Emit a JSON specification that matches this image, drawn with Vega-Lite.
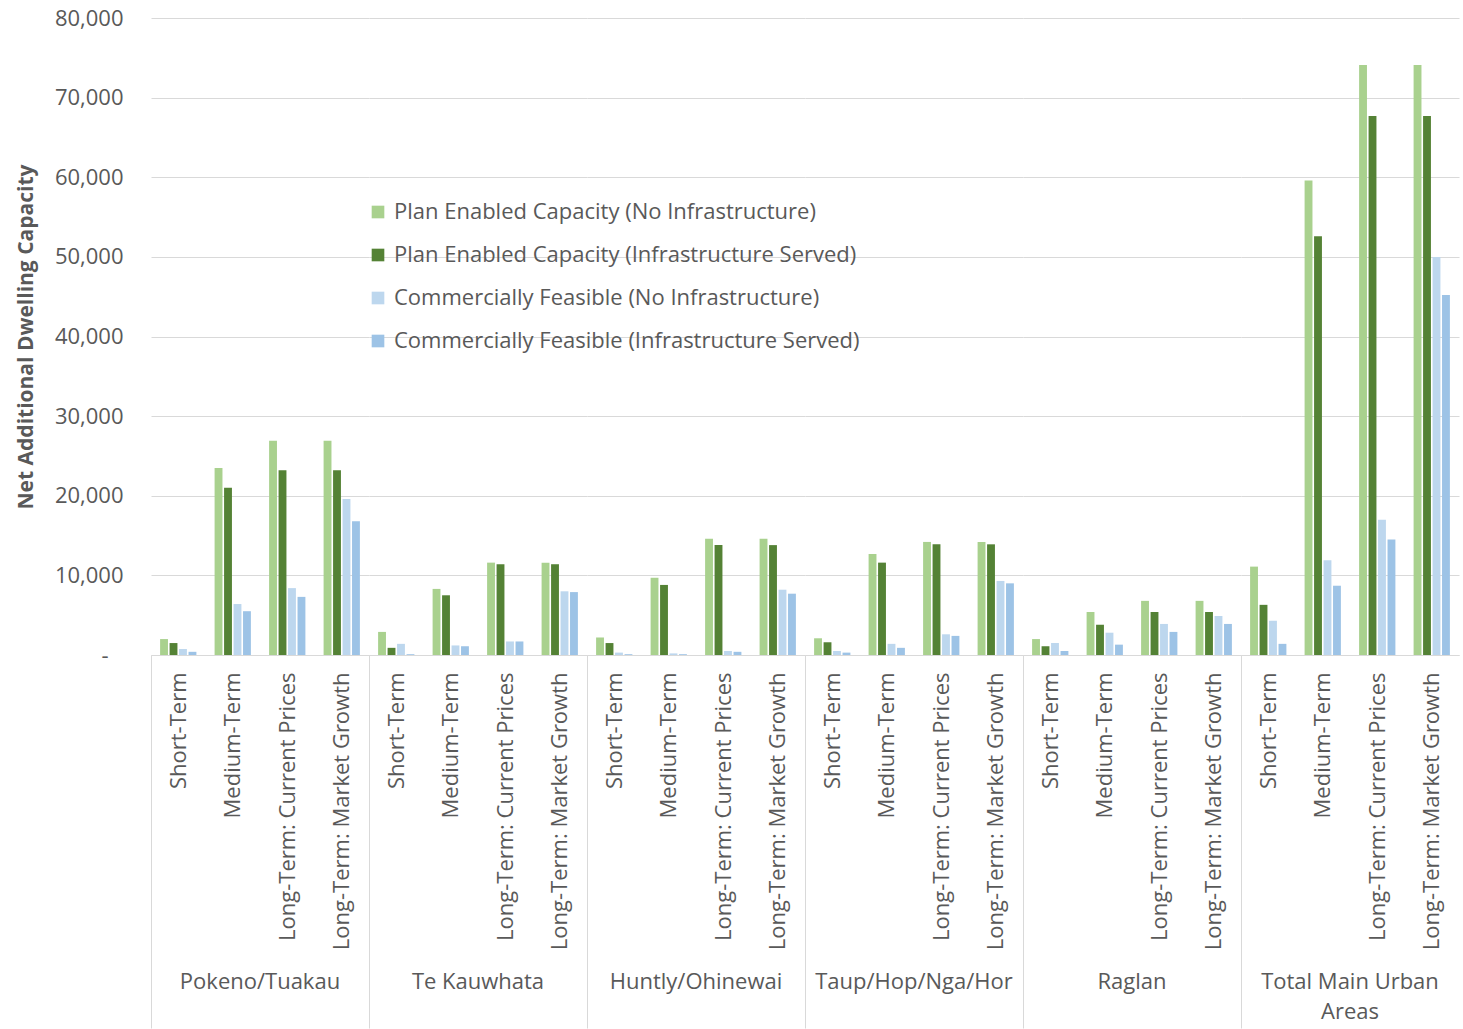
{
  "$schema": "https://vega.github.io/schema/vega-lite/v6.json",
  "background": "white",
  "padding": {"left": 15, "top": 7, "right": 0, "bottom": 0},
  "data": {"values": [
    {"region": "Pokeno/Tuakau", "term": "Short-Term", "series": "Plan Enabled Capacity (No Infrastructure)", "value": 2000},
    {"region": "Pokeno/Tuakau", "term": "Short-Term", "series": "Plan Enabled Capacity (Infrastructure Served)", "value": 1500},
    {"region": "Pokeno/Tuakau", "term": "Short-Term", "series": "Commercially Feasible (No Infrastructure)", "value": 750},
    {"region": "Pokeno/Tuakau", "term": "Short-Term", "series": "Commercially Feasible (Infrastructure Served)", "value": 400},
    {"region": "Pokeno/Tuakau", "term": "Medium-Term", "series": "Plan Enabled Capacity (No Infrastructure)", "value": 23500},
    {"region": "Pokeno/Tuakau", "term": "Medium-Term", "series": "Plan Enabled Capacity (Infrastructure Served)", "value": 21000},
    {"region": "Pokeno/Tuakau", "term": "Medium-Term", "series": "Commercially Feasible (No Infrastructure)", "value": 6400},
    {"region": "Pokeno/Tuakau", "term": "Medium-Term", "series": "Commercially Feasible (Infrastructure Served)", "value": 5500},
    {"region": "Pokeno/Tuakau", "term": "Long-Term: Current Prices", "series": "Plan Enabled Capacity (No Infrastructure)", "value": 26900},
    {"region": "Pokeno/Tuakau", "term": "Long-Term: Current Prices", "series": "Plan Enabled Capacity (Infrastructure Served)", "value": 23200},
    {"region": "Pokeno/Tuakau", "term": "Long-Term: Current Prices", "series": "Commercially Feasible (No Infrastructure)", "value": 8400},
    {"region": "Pokeno/Tuakau", "term": "Long-Term: Current Prices", "series": "Commercially Feasible (Infrastructure Served)", "value": 7300},
    {"region": "Pokeno/Tuakau", "term": "Long-Term: Market Growth", "series": "Plan Enabled Capacity (No Infrastructure)", "value": 26900},
    {"region": "Pokeno/Tuakau", "term": "Long-Term: Market Growth", "series": "Plan Enabled Capacity (Infrastructure Served)", "value": 23200},
    {"region": "Pokeno/Tuakau", "term": "Long-Term: Market Growth", "series": "Commercially Feasible (No Infrastructure)", "value": 19600},
    {"region": "Pokeno/Tuakau", "term": "Long-Term: Market Growth", "series": "Commercially Feasible (Infrastructure Served)", "value": 16800},
    {"region": "Te Kauwhata", "term": "Short-Term", "series": "Plan Enabled Capacity (No Infrastructure)", "value": 2900},
    {"region": "Te Kauwhata", "term": "Short-Term", "series": "Plan Enabled Capacity (Infrastructure Served)", "value": 900},
    {"region": "Te Kauwhata", "term": "Short-Term", "series": "Commercially Feasible (No Infrastructure)", "value": 1400},
    {"region": "Te Kauwhata", "term": "Short-Term", "series": "Commercially Feasible (Infrastructure Served)", "value": 100},
    {"region": "Te Kauwhata", "term": "Medium-Term", "series": "Plan Enabled Capacity (No Infrastructure)", "value": 8300},
    {"region": "Te Kauwhata", "term": "Medium-Term", "series": "Plan Enabled Capacity (Infrastructure Served)", "value": 7500},
    {"region": "Te Kauwhata", "term": "Medium-Term", "series": "Commercially Feasible (No Infrastructure)", "value": 1200},
    {"region": "Te Kauwhata", "term": "Medium-Term", "series": "Commercially Feasible (Infrastructure Served)", "value": 1100},
    {"region": "Te Kauwhata", "term": "Long-Term: Current Prices", "series": "Plan Enabled Capacity (No Infrastructure)", "value": 11600},
    {"region": "Te Kauwhata", "term": "Long-Term: Current Prices", "series": "Plan Enabled Capacity (Infrastructure Served)", "value": 11400},
    {"region": "Te Kauwhata", "term": "Long-Term: Current Prices", "series": "Commercially Feasible (No Infrastructure)", "value": 1700},
    {"region": "Te Kauwhata", "term": "Long-Term: Current Prices", "series": "Commercially Feasible (Infrastructure Served)", "value": 1700},
    {"region": "Te Kauwhata", "term": "Long-Term: Market Growth", "series": "Plan Enabled Capacity (No Infrastructure)", "value": 11600},
    {"region": "Te Kauwhata", "term": "Long-Term: Market Growth", "series": "Plan Enabled Capacity (Infrastructure Served)", "value": 11400},
    {"region": "Te Kauwhata", "term": "Long-Term: Market Growth", "series": "Commercially Feasible (No Infrastructure)", "value": 8000},
    {"region": "Te Kauwhata", "term": "Long-Term: Market Growth", "series": "Commercially Feasible (Infrastructure Served)", "value": 7900},
    {"region": "Huntly/Ohinewai", "term": "Short-Term", "series": "Plan Enabled Capacity (No Infrastructure)", "value": 2200},
    {"region": "Huntly/Ohinewai", "term": "Short-Term", "series": "Plan Enabled Capacity (Infrastructure Served)", "value": 1500},
    {"region": "Huntly/Ohinewai", "term": "Short-Term", "series": "Commercially Feasible (No Infrastructure)", "value": 300},
    {"region": "Huntly/Ohinewai", "term": "Short-Term", "series": "Commercially Feasible (Infrastructure Served)", "value": 100},
    {"region": "Huntly/Ohinewai", "term": "Medium-Term", "series": "Plan Enabled Capacity (No Infrastructure)", "value": 9700},
    {"region": "Huntly/Ohinewai", "term": "Medium-Term", "series": "Plan Enabled Capacity (Infrastructure Served)", "value": 8800},
    {"region": "Huntly/Ohinewai", "term": "Medium-Term", "series": "Commercially Feasible (No Infrastructure)", "value": 200},
    {"region": "Huntly/Ohinewai", "term": "Medium-Term", "series": "Commercially Feasible (Infrastructure Served)", "value": 100},
    {"region": "Huntly/Ohinewai", "term": "Long-Term: Current Prices", "series": "Plan Enabled Capacity (No Infrastructure)", "value": 14600},
    {"region": "Huntly/Ohinewai", "term": "Long-Term: Current Prices", "series": "Plan Enabled Capacity (Infrastructure Served)", "value": 13800},
    {"region": "Huntly/Ohinewai", "term": "Long-Term: Current Prices", "series": "Commercially Feasible (No Infrastructure)", "value": 500},
    {"region": "Huntly/Ohinewai", "term": "Long-Term: Current Prices", "series": "Commercially Feasible (Infrastructure Served)", "value": 400},
    {"region": "Huntly/Ohinewai", "term": "Long-Term: Market Growth", "series": "Plan Enabled Capacity (No Infrastructure)", "value": 14600},
    {"region": "Huntly/Ohinewai", "term": "Long-Term: Market Growth", "series": "Plan Enabled Capacity (Infrastructure Served)", "value": 13800},
    {"region": "Huntly/Ohinewai", "term": "Long-Term: Market Growth", "series": "Commercially Feasible (No Infrastructure)", "value": 8200},
    {"region": "Huntly/Ohinewai", "term": "Long-Term: Market Growth", "series": "Commercially Feasible (Infrastructure Served)", "value": 7700},
    {"region": "Taup/Hop/Nga/Hor", "term": "Short-Term", "series": "Plan Enabled Capacity (No Infrastructure)", "value": 2100},
    {"region": "Taup/Hop/Nga/Hor", "term": "Short-Term", "series": "Plan Enabled Capacity (Infrastructure Served)", "value": 1600},
    {"region": "Taup/Hop/Nga/Hor", "term": "Short-Term", "series": "Commercially Feasible (No Infrastructure)", "value": 500},
    {"region": "Taup/Hop/Nga/Hor", "term": "Short-Term", "series": "Commercially Feasible (Infrastructure Served)", "value": 300},
    {"region": "Taup/Hop/Nga/Hor", "term": "Medium-Term", "series": "Plan Enabled Capacity (No Infrastructure)", "value": 12700},
    {"region": "Taup/Hop/Nga/Hor", "term": "Medium-Term", "series": "Plan Enabled Capacity (Infrastructure Served)", "value": 11600},
    {"region": "Taup/Hop/Nga/Hor", "term": "Medium-Term", "series": "Commercially Feasible (No Infrastructure)", "value": 1400},
    {"region": "Taup/Hop/Nga/Hor", "term": "Medium-Term", "series": "Commercially Feasible (Infrastructure Served)", "value": 900},
    {"region": "Taup/Hop/Nga/Hor", "term": "Long-Term: Current Prices", "series": "Plan Enabled Capacity (No Infrastructure)", "value": 14200},
    {"region": "Taup/Hop/Nga/Hor", "term": "Long-Term: Current Prices", "series": "Plan Enabled Capacity (Infrastructure Served)", "value": 13900},
    {"region": "Taup/Hop/Nga/Hor", "term": "Long-Term: Current Prices", "series": "Commercially Feasible (No Infrastructure)", "value": 2600},
    {"region": "Taup/Hop/Nga/Hor", "term": "Long-Term: Current Prices", "series": "Commercially Feasible (Infrastructure Served)", "value": 2400},
    {"region": "Taup/Hop/Nga/Hor", "term": "Long-Term: Market Growth", "series": "Plan Enabled Capacity (No Infrastructure)", "value": 14200},
    {"region": "Taup/Hop/Nga/Hor", "term": "Long-Term: Market Growth", "series": "Plan Enabled Capacity (Infrastructure Served)", "value": 13900},
    {"region": "Taup/Hop/Nga/Hor", "term": "Long-Term: Market Growth", "series": "Commercially Feasible (No Infrastructure)", "value": 9300},
    {"region": "Taup/Hop/Nga/Hor", "term": "Long-Term: Market Growth", "series": "Commercially Feasible (Infrastructure Served)", "value": 9000},
    {"region": "Raglan", "term": "Short-Term", "series": "Plan Enabled Capacity (No Infrastructure)", "value": 2000},
    {"region": "Raglan", "term": "Short-Term", "series": "Plan Enabled Capacity (Infrastructure Served)", "value": 1100},
    {"region": "Raglan", "term": "Short-Term", "series": "Commercially Feasible (No Infrastructure)", "value": 1500},
    {"region": "Raglan", "term": "Short-Term", "series": "Commercially Feasible (Infrastructure Served)", "value": 500},
    {"region": "Raglan", "term": "Medium-Term", "series": "Plan Enabled Capacity (No Infrastructure)", "value": 5400},
    {"region": "Raglan", "term": "Medium-Term", "series": "Plan Enabled Capacity (Infrastructure Served)", "value": 3800},
    {"region": "Raglan", "term": "Medium-Term", "series": "Commercially Feasible (No Infrastructure)", "value": 2800},
    {"region": "Raglan", "term": "Medium-Term", "series": "Commercially Feasible (Infrastructure Served)", "value": 1300},
    {"region": "Raglan", "term": "Long-Term: Current Prices", "series": "Plan Enabled Capacity (No Infrastructure)", "value": 6800},
    {"region": "Raglan", "term": "Long-Term: Current Prices", "series": "Plan Enabled Capacity (Infrastructure Served)", "value": 5400},
    {"region": "Raglan", "term": "Long-Term: Current Prices", "series": "Commercially Feasible (No Infrastructure)", "value": 3900},
    {"region": "Raglan", "term": "Long-Term: Current Prices", "series": "Commercially Feasible (Infrastructure Served)", "value": 2900},
    {"region": "Raglan", "term": "Long-Term: Market Growth", "series": "Plan Enabled Capacity (No Infrastructure)", "value": 6800},
    {"region": "Raglan", "term": "Long-Term: Market Growth", "series": "Plan Enabled Capacity (Infrastructure Served)", "value": 5400},
    {"region": "Raglan", "term": "Long-Term: Market Growth", "series": "Commercially Feasible (No Infrastructure)", "value": 4900},
    {"region": "Raglan", "term": "Long-Term: Market Growth", "series": "Commercially Feasible (Infrastructure Served)", "value": 3900},
    {"region": "Total Main Urban Areas", "term": "Short-Term", "series": "Plan Enabled Capacity (No Infrastructure)", "value": 11100},
    {"region": "Total Main Urban Areas", "term": "Short-Term", "series": "Plan Enabled Capacity (Infrastructure Served)", "value": 6300},
    {"region": "Total Main Urban Areas", "term": "Short-Term", "series": "Commercially Feasible (No Infrastructure)", "value": 4300},
    {"region": "Total Main Urban Areas", "term": "Short-Term", "series": "Commercially Feasible (Infrastructure Served)", "value": 1400},
    {"region": "Total Main Urban Areas", "term": "Medium-Term", "series": "Plan Enabled Capacity (No Infrastructure)", "value": 59600},
    {"region": "Total Main Urban Areas", "term": "Medium-Term", "series": "Plan Enabled Capacity (Infrastructure Served)", "value": 52600},
    {"region": "Total Main Urban Areas", "term": "Medium-Term", "series": "Commercially Feasible (No Infrastructure)", "value": 11900},
    {"region": "Total Main Urban Areas", "term": "Medium-Term", "series": "Commercially Feasible (Infrastructure Served)", "value": 8700},
    {"region": "Total Main Urban Areas", "term": "Long-Term: Current Prices", "series": "Plan Enabled Capacity (No Infrastructure)", "value": 74100},
    {"region": "Total Main Urban Areas", "term": "Long-Term: Current Prices", "series": "Plan Enabled Capacity (Infrastructure Served)", "value": 67700},
    {"region": "Total Main Urban Areas", "term": "Long-Term: Current Prices", "series": "Commercially Feasible (No Infrastructure)", "value": 17000},
    {"region": "Total Main Urban Areas", "term": "Long-Term: Current Prices", "series": "Commercially Feasible (Infrastructure Served)", "value": 14500},
    {"region": "Total Main Urban Areas", "term": "Long-Term: Market Growth", "series": "Plan Enabled Capacity (No Infrastructure)", "value": 74100},
    {"region": "Total Main Urban Areas", "term": "Long-Term: Market Growth", "series": "Plan Enabled Capacity (Infrastructure Served)", "value": 67700},
    {"region": "Total Main Urban Areas", "term": "Long-Term: Market Growth", "series": "Commercially Feasible (No Infrastructure)", "value": 50000},
    {"region": "Total Main Urban Areas", "term": "Long-Term: Market Growth", "series": "Commercially Feasible (Infrastructure Served)", "value": 45200}
  ]},
  "spacing": 0,
  "facet": {
    "column": {
      "field": "region",
      "type": "nominal",
      "sort": ["Pokeno/Tuakau", "Te Kauwhata", "Huntly/Ohinewai", "Taup/Hop/Nga/Hor", "Raglan", "Total Main Urban Areas"],
      "title": null,
      "header": {
        "labelOrient": "bottom",
        "labelFont": "Open Sans",
        "labelFontSize": 22,
        "labelColor": "#595959",
        "labelPadding": -57,
        "labelLineHeight": 30,
        "labelExpr": "datum.value === 'Total Main Urban Areas' ? ['Total Main Urban', 'Areas'] : datum.value"
      }
    }
  },
  "spec": {
    "width": 218,
    "height": 637,
    "mark": {"type": "bar"},
    "encoding": {
      "x": {
        "field": "term",
        "type": "nominal",
        "sort": ["Short-Term", "Medium-Term", "Long-Term: Current Prices", "Long-Term: Market Growth"],
        "scale": {"paddingInner": 0, "paddingOuter": 0},
        "axis": {
          "title": null,
          "labelAngle": -90,
          "labelLimit": 400,
          "labelOverlap": false,
          "labelFont": "Open Sans",
          "labelFontSize": 22,
          "labelColor": "#595959",
          "tickBand": "extent",
          "tickSize": 373,
          "tickColor": {"condition": {"test": "datum.extra != null", "value": "#d9d9d9"}, "value": "transparent"},
          "labelPadding": -356,
          "domainColor": "#d9d9d9",
          "grid": false
        }
      },
      "xOffset": {
        "field": "series",
        "type": "nominal",
        "sort": ["Plan Enabled Capacity (No Infrastructure)", "Plan Enabled Capacity (Infrastructure Served)", "Commercially Feasible (No Infrastructure)", "Commercially Feasible (Infrastructure Served)"],
        "scale": {"paddingInner": 0.17, "paddingOuter": 0.96}
      },
      "y": {
        "field": "value",
        "type": "quantitative",
        "scale": {"domain": [0, 80000]},
        "axis": {
          "title": "Net Additional Dwelling Capacity",
          "titleFont": "Open Sans",
          "titleFontSize": 21,
          "titleFontWeight": "bold",
          "titleColor": "#595959",
          "titlePadding": 18,
          "values": [0, 10000, 20000, 30000, 40000, 50000, 60000, 70000, 80000],
          "labelExpr": "datum.value === 0 ? '-' : format(datum.value, ',')",
          "labelFont": "Open Sans",
          "labelFontSize": 22,
          "labelColor": "#595959",
          "labelPadding": {"condition": {"test": "datum.value === 0", "value": 43}, "value": 28},
          "domain": false,
          "ticks": false,
          "gridColor": "#d9d9d9",
          "gridWidth": 1
        }
      },
      "color": {
        "field": "series",
        "type": "nominal",
        "sort": ["Plan Enabled Capacity (No Infrastructure)", "Plan Enabled Capacity (Infrastructure Served)", "Commercially Feasible (No Infrastructure)", "Commercially Feasible (Infrastructure Served)"],
        "scale": {
          "domain": ["Plan Enabled Capacity (No Infrastructure)", "Plan Enabled Capacity (Infrastructure Served)", "Commercially Feasible (No Infrastructure)", "Commercially Feasible (Infrastructure Served)"],
          "range": ["#a9d18e", "#548235", "#bdd7ee", "#9dc3e6"]
        },
        "legend": {
          "title": null,
          "orient": "none",
          "legendX": 216,
          "legendY": 183,
          "symbolType": "square",
          "symbolSize": 160,
          "symbolStrokeWidth": 0,
          "labelFont": "Open Sans",
          "labelFontSize": 22,
          "labelColor": "#595959",
          "labelLimit": 700,
          "labelOffset": 5,
          "rowPadding": 21
        }
      }
    }
  },
  "config": {
    "view": {"stroke": null},
    "font": "Open Sans"
  }
}
